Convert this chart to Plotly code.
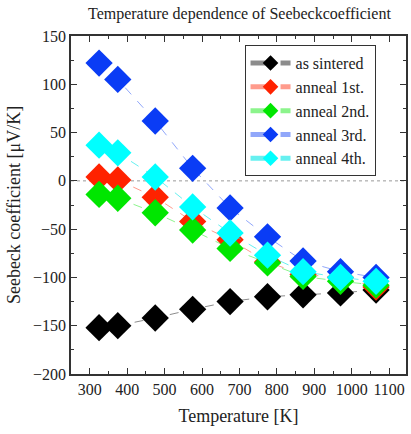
import plotly.graph_objects as go

temperature = [325, 375, 475, 575, 675, 775, 870, 970, 1065]
as_sintered = [-152, -150, -142, -133, -125, -120, -118, -116, -113]
anneal_1st = [4, 1, -17, -42, -61, -84, -97, -100, -110]
anneal_2nd = [-14, -18, -33, -51, -70, -85, -99, -104, -108]
anneal_3rd = [122, 105, 62, 13, -28, -58, -83, -94, -100]
anneal_4th = [37, 29, 4, -27, -54, -77, -94, -100, -104]

series = [
    ("as sintered", as_sintered, "#000000", "rgba(0,0,0,0.45)"),
    ("anneal 1st.", anneal_1st, "#ff2200", "rgba(255,34,0,0.45)"),
    ("anneal 2nd.", anneal_2nd, "#00e600", "rgba(0,230,0,0.45)"),
    ("anneal 3rd.", anneal_3rd, "#0a3cf5", "rgba(10,60,245,0.45)"),
    ("anneal 4th.", anneal_4th, "#00ffff", "rgba(0,230,230,0.6)"),
]

font = "Liberation Serif"

fig = go.Figure()
for name, vals, col, lcol in series:
    fig.add_trace(go.Scatter(
        x=temperature, y=vals, name=name, mode="lines+markers",
        line=dict(color=lcol, width=1, dash="dash"),
        marker=dict(symbol="diamond", size=21, color=col, line=dict(width=0)),
    ))

fig.add_shape(type="line", xref="paper", x0=0, x1=1, yref="y", y0=0, y1=0,
              line=dict(color="#999999", width=1, dash="dot"), layer="below")

axis_common = dict(
    showline=True, linecolor="#333333", linewidth=1.5, mirror="allticks",
    ticks="inside", ticklen=6, tickcolor="#333333", tickwidth=1,
    showgrid=False, zeroline=False, automargin=False,
    tickfont=dict(family=font, size=16, color="#222222"),
)

fig.update_layout(
    width=411, height=434,
    margin=dict(l=71, r=5, t=36, b=60, autoexpand=False),
    font=dict(family=font, color="#222222"),
    paper_bgcolor="white", plot_bgcolor="white",
    title=dict(text="Temperature dependence of Seebeckcoefficient",
               font=dict(family=font, size=16, color="#222222"),
               x=0.5825, xanchor="center", y=0.969, yanchor="middle"),
    xaxis=dict(range=[250, 1145], dtick=100, tick0=300,
               minor=dict(dtick=50, ticks="inside", ticklen=3, tickcolor="#333333"),
               title=dict(text="Temperature [K]", font=dict(family=font, size=18, color="#222222"), standoff=12),
               **axis_common),
    yaxis=dict(range=[-200, 150], dtick=50,
               minor=dict(dtick=25, ticks="inside", ticklen=3, tickcolor="#333333"),
               title=dict(text="Seebeck coefficient [μV/K]", font=dict(family=font, size=18, color="#222222"), standoff=8),
               **axis_common),
    legend=dict(x=0.518, y=0.973, xanchor="left", yanchor="top",
                bordercolor="#333333", borderwidth=1, bgcolor="white",
                font=dict(family=font, size=16, color="#222222"),
                itemsizing="constant", itemwidth=40, tracegroupgap=0),
    showlegend=True,
)

fig.write_html("out.html", config={"displayModeBar": False},
               post_script="document.body.style.margin='0px';document.body.style.padding='0px';")
